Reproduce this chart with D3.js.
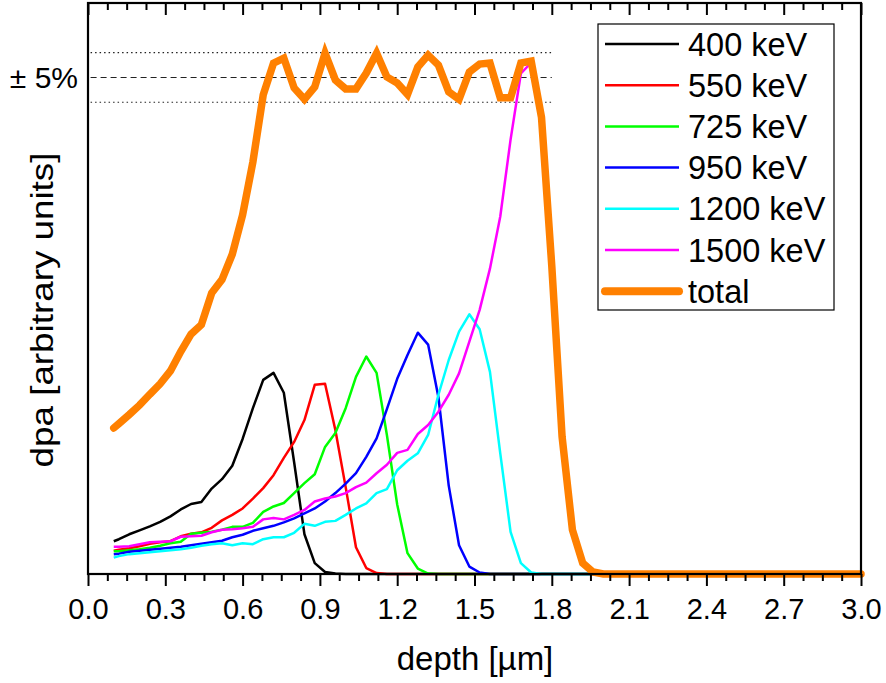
<!DOCTYPE html>
<html><head><meta charset="utf-8">
<script src="https://cdn.jsdelivr.net/npm/d3@7"></script>
<style>body{margin:0;background:#fff} svg{display:block} text{font-family:"Liberation Sans",Arial,sans-serif}</style>
</head><body><svg id="c" width="886" height="683"></svg>
<script>
const depth = [0.10,0.12,0.16,0.20,0.24,0.28,0.32,0.36,0.40,0.44,0.48,0.52,0.56,0.60,0.64,0.68,0.72,0.76,0.80,0.84,0.88,0.92,0.96,1.00,1.04,1.08,1.12,1.16,1.20,1.24,1.28,1.32,1.36,1.40,1.44,1.48,1.52,1.56,1.60,1.64,1.68,1.72,1.76,1.80,1.84,1.88,1.92,1.96,2.00,3.00];
const e400 = [6.6,7.0,8.0,8.8,9.6,10.5,11.6,13.0,14.1,14.5,17.2,19.1,21.8,27.2,33.4,39.1,40.5,36.5,22.5,8.0,2.2,0.4,0.1,0,0,0,0,0,0,0,0,0,0,0,0,0,0,0,0,0,0,0,0,0,0,0,0,0,0,0];
const e550 = [4.7,4.9,5.2,5.6,6.1,6.4,6.6,7.6,8.1,8.4,9.3,10.8,11.9,13.2,15.2,17.3,19.9,23.4,26.6,31.0,38.1,38.3,29.0,17.5,5.4,1.2,0.2,0,0,0,0,0,0,0,0,0,0,0,0,0,0,0,0,0,0,0,0,0,0,0];
const e725 = [4.6,4.6,4.8,5.0,5.3,5.7,6.2,6.5,8.1,8.3,8.5,8.9,9.5,9.5,10.3,12.5,13.6,14.3,16.3,18.3,20.1,25.6,28.4,33.4,39.7,43.8,40.5,28.0,14.0,4.2,1.1,0.1,0,0,0,0,0,0,0,0,0,0,0,0,0,0,0,0,0,0];
const e950 = [4.0,4.1,4.5,4.7,4.9,5.1,5.3,5.5,5.8,6.1,6.4,6.7,7.4,7.9,8.7,9.2,9.7,10.4,11.2,12.2,13.2,14.6,16.3,18.2,20.3,23.6,27.3,33.2,39.3,44.1,48.6,46.2,35.6,17.8,5.8,1.5,0.3,0,0,0,0,0,0,0,0,0,0,0,0,0];
const e1200 = [3.3,3.6,4.0,4.2,4.4,4.6,4.8,5.0,5.3,5.7,6.0,6.2,5.8,6.2,6.0,7.0,7.4,7.4,8.3,10.1,9.7,10.5,10.7,11.9,13.2,14.2,16.3,17.1,20.9,22.8,24.3,28.0,36.1,43.1,48.8,52.3,49.3,40.7,24.3,8.5,2.2,0.3,0,0,0,0,0,0,0,0];
const e1500 = [5.5,5.5,5.6,6.0,6.4,6.5,6.6,7.5,7.6,7.7,8.4,8.9,9.0,9.2,9.5,11.0,11.3,11.0,11.9,12.9,14.6,15.2,15.6,16.3,17.5,18.4,20.3,22.0,24.4,25.0,28.2,30.0,32.7,36.1,40.4,46.8,53.2,61.5,72.0,87.5,100.8,103.0,92.0,62.0,27.6,8.9,2.2,0.4,0,0];
const total = [29.4,30.3,32.1,34.0,36.2,38.3,40.9,44.8,48.3,50.2,56.6,59.3,64.4,72.3,83.0,96.5,102.9,103.9,97.9,95.6,98.1,104.9,99.5,97.7,97.7,100.9,104.9,100.1,98.9,96.6,102.1,104.5,102.5,97.1,95.6,101.1,102.7,102.9,95.9,95.9,102.9,103.3,92.0,62.0,27.6,8.9,2.2,0.4,0,0];
const seriesNames = ["400 keV","550 keV","725 keV","950 keV","1200 keV","1500 keV","total"];
const seriesColors = ["#000000","#ff0000","#00ff00","#0000ff","#00ffff","#ff00ff","#ff8000"];
const seriesData = [e400,e550,e725,e950,e1200,e1500,total];
const xMajorTicks = [0,0.3,0.6,0.9,1.2,1.5,1.8,2.1,2.4,2.7,3.0];
const refLevels = [95,100,105];
const refLabel = "± 5%";

const svg = d3.select("#c");
const x = d3.scaleLinear().domain([0,3]).range([88,861]);
const y = d3.scaleLinear().domain([0,115]).range([574,3]);
const minorTicks = d3.range(0,3.0001,0.075).filter(v=>Math.abs(v/0.3-Math.round(v/0.3))>1e-6);

// reference lines
refLevels.forEach(v=>{
  svg.append("line").attr("x1",x(0.01)).attr("x2",x(1.8)).attr("y1",y(v)).attr("y2",y(v))
    .attr("stroke","#222").attr("stroke-width",1.1)
    .attr("stroke-dasharray", v===100 ? "6,4" : "1.5,3");
});
svg.append("text").attr("x",78).attr("y",y(100)+11).attr("text-anchor","end")
  .attr("font-size",30).text(refLabel);

// lines
const line = d3.line().x((d,i)=>x(depth[i])).y(d=>y(d));
seriesData.forEach((s,k)=>{
  const isTot = k===6;
  svg.append("path").attr("d",line(s)).attr("fill","none")
    .attr("stroke",seriesColors[k]).attr("stroke-width",isTot?7.5:2.5)
    .attr("stroke-linejoin",isTot?"miter":"round").attr("stroke-linecap",isTot?"round":"butt");
});

// axes
const gb = svg.append("g").attr("transform",`translate(0,${y(0)})`);
gb.call(d3.axisBottom(x).tickValues(xMajorTicks).tickSize(12).tickFormat(d3.format(".1f")));
const gbm = svg.append("g").attr("transform",`translate(0,${y(0)})`);
gbm.call(d3.axisBottom(x).tickValues(minorTicks).tickSize(7).tickFormat(""));
const gt = svg.append("g").attr("transform",`translate(0,${y(115)})`);
gt.call(d3.axisTop(x).tickValues(xMajorTicks).tickSize(-12).tickFormat(""));
const gtm = svg.append("g").attr("transform",`translate(0,${y(115)})`);
gtm.call(d3.axisTop(x).tickValues(minorTicks).tickSize(-7).tickFormat(""));
svg.selectAll(".domain").remove();
svg.selectAll(".tick line").attr("stroke","#000").attr("stroke-width",2);
gb.selectAll(".tick text").attr("font-size",29).attr("font-family","'Liberation Sans',Arial,sans-serif").attr("dy","1.02em").attr("fill","#000");
svg.append("rect").attr("x",x(0)).attr("y",y(115)).attr("width",x(3)-x(0)).attr("height",y(0)-y(115))
  .attr("fill","none").attr("stroke","#000").attr("stroke-width",2.2);

// axis titles
svg.append("text").attr("x",475).attr("y",670).attr("text-anchor","middle").attr("font-size",33).text("depth [µm]");
svg.append("text").attr("transform",`translate(53,310) rotate(-90) scale(1.15,1)`).attr("text-anchor","middle").attr("font-size",32).text("dpa [arbitrary units]");

// legend
const lg = svg.append("g");
lg.append("rect").attr("x",598).attr("y",24).attr("width",236).attr("height",286).attr("fill","#fff").attr("stroke","#000").attr("stroke-width",1.2);
seriesNames.forEach((n,k)=>{
  const cy = 44 + k*41.2;
  lg.append("line").attr("x1",605).attr("x2",679).attr("y1",cy).attr("y2",cy)
    .attr("stroke",seriesColors[k]).attr("stroke-width",k===6?8:2.5).attr("stroke-linecap",k===6?"round":"butt");
  lg.append("text").attr("x",688).attr("y",cy+11.5).attr("font-size",32.5).text(n);
});
</script></body></html>
